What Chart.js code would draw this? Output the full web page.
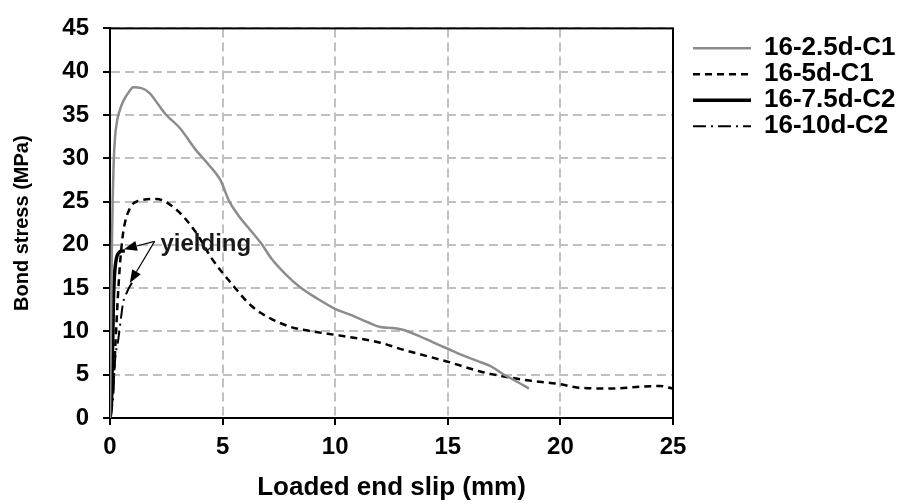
<!DOCTYPE html>
<html>
<head>
<meta charset="utf-8">
<script src="https://cdn.jsdelivr.net/npm/chart.js@4.4.1/dist/chart.umd.min.js"></script>
<style>
  html, body { margin: 0; padding: 0; background: #fff; }
  #wrap { width: 900px; height: 503px; }
</style>
</head>
<body>
<div id="wrap"><canvas id="bondChart" width="900" height="503"></canvas></div>
<script>
// series names
var seriesNames = ['16-2.5d-C1', '16-5d-C1', '16-7.5d-C2', '16-10d-C2'];

// 16-2.5d-C1 (slip mm / stress MPa)
var slipA   = [0, 0.04, 0.08, 0.12, 0.16, 0.22, 0.32, 0.44, 0.59, 0.8, 1.03, 1.4, 1.77, 2.2, 2.5, 3.1, 3.8, 4.4, 4.9, 5.3, 5.7, 6.2, 6.7, 7.2, 7.8, 8.4, 9.2, 10.0, 10.8, 11.5, 12.0, 12.5, 13.0, 13.6, 14.3, 15.0, 15.7, 16.3, 16.9, 17.5, 18.0, 18.6];
var stressA = [0, 10, 19, 25.3, 29.3, 32.3, 34.4, 35.6, 36.6, 37.5, 38.2, 38.1, 37.5, 36, 35, 33.5, 31.0, 29.2, 27.5, 25.0, 23.4, 21.8, 20.2, 18.3, 16.6, 15.2, 13.8, 12.6, 11.8, 11.0, 10.5, 10.4, 10.2, 9.6, 8.8, 8.0, 7.2, 6.6, 6.0, 5.0, 4.3, 3.4];

// 16-5d-C1
var slipB   = [0, 0.15, 0.25, 0.35, 0.45, 0.59, 0.88, 1.3, 2.05, 2.93, 3.8, 4.5, 5.4, 6.3, 7.2, 8.05, 9.0, 10.0, 11.0, 12.0, 13.0, 14.0, 15.0, 16.4, 17.5, 18.7, 20.0, 20.8, 22.3, 23.5, 24.4, 25.0];
var stressB = [0, 4, 9, 14, 18, 21.5, 24.2, 25.1, 25.3, 24.1, 21.5, 18.5, 15.5, 12.9, 11.4, 10.5, 10.0, 9.6, 9.2, 8.7, 7.9, 7.2, 6.5, 5.4, 4.8, 4.3, 3.9, 3.5, 3.4, 3.6, 3.7, 3.4];

// 16-7.5d-C2
var slipC   = [0, 0.07, 0.1, 0.13, 0.15, 0.2, 0.29, 0.4, 0.51, 0.66];
var stressC = [0, 2, 6, 10, 13.3, 16.5, 18.5, 19.1, 19.3, 19.3];

// 16-10d-C2
var slipD   = [0, 0.1, 0.15, 0.22, 0.37, 0.5, 0.58, 0.73, 0.95, 1.05];
var stressD = [0, 1.5, 2.8, 6.5, 9.1, 11.8, 13.3, 14.4, 15.5, 15.8];

// "yielding" note: label anchor and arrow tips, in data units
var noteText = 'yielding';
var noteAnchor = [2.24, 20.0];
var arrowFrom = [1.98, 20.4];
var arrowTips = [[0.62, 19.5], [0.88, 15.6]];

function pts(xs, ys) {
  var out = [];
  for (var i = 0; i < xs.length; i++) out.push({x: xs[i], y: ys[i]});
  return out;
}

var FONT = "'Liberation Sans', Arial, sans-serif";

// black frame round the plot area (Excel style)
var framePlugin = {
  id: 'frame',
  beforeDatasetsDraw: function(chart) {
    var a = chart.chartArea, ctx = chart.ctx;
    ctx.save();
    ctx.strokeStyle = '#000';
    ctx.lineWidth = 2;
    ctx.strokeRect(a.left, a.top, a.right - a.left, a.bottom - a.top);
    ctx.restore();
  }
};

// text + arrows for yielding
var notePlugin = {
  id: 'note',
  afterDatasetsDraw: function(chart) {
    var ctx = chart.ctx, sx = chart.scales.x, sy = chart.scales.y;
    var fx = sx.getPixelForValue(arrowFrom[0]), fy = sy.getPixelForValue(arrowFrom[1]);
    ctx.save();
    ctx.strokeStyle = '#000';
    ctx.fillStyle = '#000';
    ctx.lineWidth = 1.2;
    arrowTips.forEach(function(t) {
      var tx = sx.getPixelForValue(t[0]), ty = sy.getPixelForValue(t[1]);
      var ang = Math.atan2(ty - fy, tx - fx);
      var hl = 13, hw = 5;
      var bx = tx - hl * Math.cos(ang), by = ty - hl * Math.sin(ang);
      ctx.beginPath();
      ctx.moveTo(fx, fy);
      ctx.lineTo(bx, by);
      ctx.stroke();
      ctx.beginPath();
      ctx.moveTo(tx, ty);
      ctx.lineTo(bx + hw * Math.sin(ang), by - hw * Math.cos(ang));
      ctx.lineTo(bx - hw * Math.sin(ang), by + hw * Math.cos(ang));
      ctx.closePath();
      ctx.fill();
    });
    ctx.font = 'bold 24px ' + FONT;
    ctx.textBaseline = 'middle';
    ctx.textAlign = 'left';
    ctx.fillStyle = '#1a1a1a';
    ctx.fillText(noteText, sx.getPixelForValue(noteAnchor[0]), sy.getPixelForValue(noteAnchor[1]));
    ctx.restore();
  }
};

var ctx = document.getElementById('bondChart').getContext('2d');
var bondChart = new Chart(ctx, {
  type: 'scatter',
  data: {
    datasets: [
      { label: seriesNames[0], data: pts(slipA, stressA), borderColor: '#8c8c8c', borderWidth: 2.5 },
      { label: seriesNames[1], data: pts(slipB, stressB), borderColor: '#000', borderWidth: 2.5, borderDash: [7, 5] },
      { label: seriesNames[2], data: pts(slipC, stressC), borderColor: '#000', borderWidth: 3.5 },
      { label: seriesNames[3], data: pts(slipD, stressD), borderColor: '#000', borderWidth: 2, borderDash: [13, 5, 2, 5] }
    ]
  },
  options: {
    responsive: false,
    animation: false,
    showLine: true,
    elements: {
      point: { radius: 0, hoverRadius: 0 },
      line: { cubicInterpolationMode: 'monotone', fill: false }
    },
    layout: { padding: { top: 18, right: 3, bottom: 0, left: 10 } },
    plugins: {
      tooltip: { enabled: false },
      legend: {
        position: 'right',
        align: 'start',
        maxWidth: 204,
        title: { display: true, text: '', padding: { top: 16, bottom: 0 }, font: { size: 1 } },
        labels: {
          usePointStyle: true,
          pointStyle: 'line',
          pointStyleWidth: 58,
          boxHeight: 20,
          padding: 0,
          color: '#000',
          font: { family: FONT, size: 26, weight: 'bold' },
          // take the line style straight from each dataset so dashes show
          generateLabels: function(chart) {
            return chart.data.datasets.map(function(ds, i) {
              return {
                text: ds.label,
                datasetIndex: i,
                strokeStyle: ds.borderColor,
                fillStyle: ds.borderColor,
                lineWidth: ds.borderWidth,
                lineDash: ds.borderDash || [],
                pointStyle: 'line',
                fontColor: '#000',
                hidden: false
              };
            });
          }
        }
      }
    },
    scales: {
      x: {
        type: 'linear',
        min: 0, max: 25,
        ticks: { stepSize: 5, color: '#000', padding: 8, font: { family: FONT, size: 24, weight: 'bold' } },
        grid: { color: '#c0c0c0', lineWidth: 2, tickLength: 7, tickColor: '#000', tickWidth: 2, tickBorderDash: [] },
        border: { display: true, color: '#000', width: 2, dash: [9, 5] },
        title: { display: true, text: 'Loaded end slip (mm)', color: '#000', padding: { top: 4, bottom: 0 }, font: { family: FONT, size: 26, weight: 'bold' } },
        afterFit: function(s) { s.height = 85; }
      },
      y: {
        type: 'linear',
        min: 0, max: 45,
        ticks: { stepSize: 5, color: '#000', padding: 14, font: { family: FONT, size: 24, weight: 'bold' } },
        grid: { color: '#c0c0c0', lineWidth: 2, tickLength: 7, tickColor: '#000', tickWidth: 2, tickBorderDash: [] },
        border: { display: true, color: '#000', width: 2, dash: [9, 5] },
        title: { display: true, text: 'Bond stress (MPa)', color: '#000', padding: { top: 0, bottom: 6 }, font: { family: FONT, size: 20, weight: 'bold' } },
        afterFit: function(s) { s.width = 100; }
      },
      // empty right axis: only spaces the legend away from the frame
      y2: {
        type: 'linear',
        position: 'right',
        min: 0, max: 45,
        ticks: { display: false },
        grid: { display: false },
        border: { display: false },
        afterFit: function(s) { s.width = 20; }
      }
    }
  },
  plugins: [framePlugin, notePlugin]
});
</script>
</body>
</html>
